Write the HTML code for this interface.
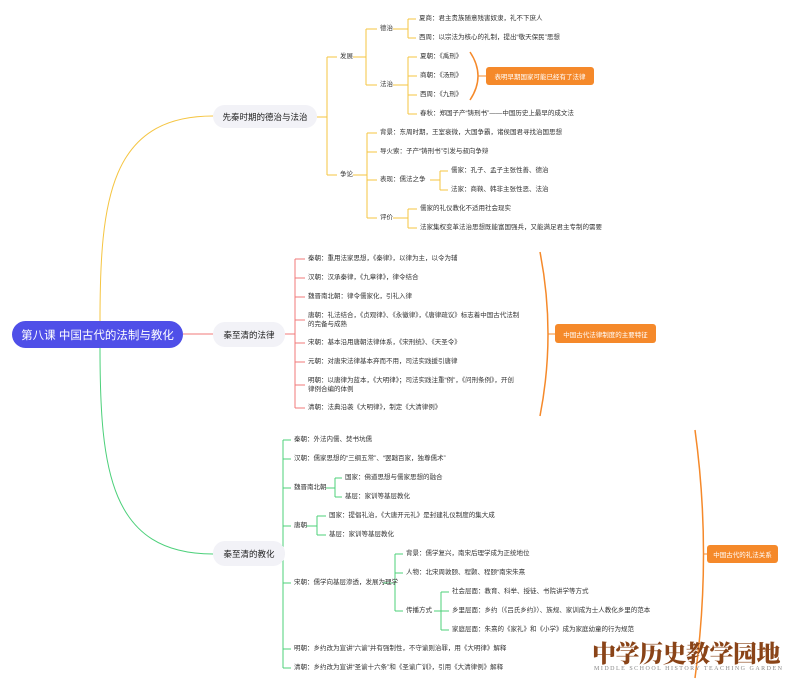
<!DOCTYPE html>
<html><head><meta charset="utf-8">
<style>
html,body{margin:0;padding:0;background:#fff;}
#c{position:relative;width:800px;height:686px;overflow:hidden;font-family:"Liberation Sans","Noto Sans CJK SC",sans-serif;color:#333;}
.t{position:absolute;font-size:6.5px;white-space:nowrap;line-height:8px;transform:translateY(-4px);}
.b{position:absolute;background:#f2f2f7;border-radius:12px;font-size:8.5px;color:#222;display:flex;align-items:center;justify-content:center;}
.o{position:absolute;background:#f5892a;color:#fff;font-size:6.5px;border-radius:3px;display:flex;align-items:center;justify-content:center;}
svg{position:absolute;left:0;top:0;}
</style></head><body><div id="c">
<svg id="s" width="800" height="686"></svg>
<div style="position:absolute;left:12px;top:321px;width:171px;height:27px;background:#4f4fe8;border-radius:14px;color:#fff;font-size:11.5px;display:flex;align-items:center;justify-content:center;">第八课 中国古代的法制与教化</div>
<div class="b" style="left:213px;top:105px;width:104px;height:23px;">先秦时期的德治与法治</div>
<div class="b" style="left:213px;top:322px;width:72px;height:25px;">秦至清的法律</div>
<div class="b" style="left:213px;top:541px;width:72px;height:25px;">秦至清的教化</div>

<div class="t" style="left:340px;top:57px">发展</div>
<div class="t" style="left:340px;top:175px">争论</div>
<div class="t" style="left:380px;top:29px">德治</div>
<div class="t" style="left:380px;top:85px">法治</div>
<div class="t" style="left:419px;top:19px">夏商：君主贵族随意残害奴隶，礼不下庶人</div>
<div class="t" style="left:419px;top:38px">西周：以宗法为核心的礼制，提出“敬天保民”思想</div>
<div class="t" style="left:420px;top:57px">夏朝：《禹刑》</div>
<div class="t" style="left:420px;top:76px">商朝：《汤刑》</div>
<div class="t" style="left:420px;top:95px">西周：《九刑》</div>
<div class="t" style="left:420px;top:114px">春秋：郑国子产“铸刑书”——中国历史上最早的成文法</div>
<div class="o" style="left:486px;top:67px;width:108px;height:18px;">表明早期国家可能已经有了法律</div>
<div class="t" style="left:380px;top:133px">背景：东周时期，王室衰微，大国争霸，诸侯国君寻找治国思想</div>
<div class="t" style="left:380px;top:152px">导火索：子产“铸刑书”引发与叔向争辩</div>
<div class="t" style="left:380px;top:180px">表现：儒法之争</div>
<div class="t" style="left:451px;top:171px">儒家：孔子、孟子主张性善、德治</div>
<div class="t" style="left:451px;top:190px">法家：商鞅、韩非主张性恶、法治</div>
<div class="t" style="left:380px;top:218px">评价</div>
<div class="t" style="left:420px;top:209px">儒家的礼仪教化不适用社会现实</div>
<div class="t" style="left:420px;top:228px">法家集权变革法治思想既能富国强兵，又能满足君主专制的需要</div>

<div class="t" style="left:308px;top:259px">秦朝：重用法家思想，《秦律》，以律为主，以令为辅</div>
<div class="t" style="left:308px;top:278px">汉朝：汉承秦律，《九章律》，律令结合</div>
<div class="t" style="left:308px;top:297px">魏晋南北朝：律令儒家化，引礼入律</div>
<div class="t" style="left:308px;top:316px">唐朝：礼法结合，《贞观律》、《永徽律》，《唐律疏议》标志着中国古代法制</div>
<div class="t" style="left:308px;top:325px">的完备与成熟</div>
<div class="t" style="left:308px;top:343px">宋朝：基本沿用唐朝法律体系，《宋刑统》、《天圣令》</div>
<div class="t" style="left:308px;top:362px">元朝：对唐宋法律基本弃而不用，司法实践援引唐律</div>
<div class="t" style="left:308px;top:381px">明朝：以唐律为蓝本，《大明律》；司法实践注重“例”，《问刑条例》，开创</div>
<div class="t" style="left:308px;top:390px">律例合编的体例</div>
<div class="t" style="left:308px;top:408px">清朝：法典沿袭《大明律》，制定《大清律例》</div>
<div class="o" style="left:555px;top:324px;width:101px;height:19px;">中国古代法律制度的主要特征</div>

<div class="t" style="left:294px;top:440px">秦朝：外法内儒、焚书坑儒</div>
<div class="t" style="left:294px;top:459px">汉朝：儒家思想的“三纲五常”、“罢黜百家，独尊儒术”</div>
<div class="t" style="left:294px;top:488px">魏晋南北朝</div>
<div class="t" style="left:345px;top:478px">国家：佛道思想与儒家思想的融合</div>
<div class="t" style="left:345px;top:497px">基层：家训等基层教化</div>
<div class="t" style="left:294px;top:526px">唐朝</div>
<div class="t" style="left:329px;top:516px">国家：提倡礼治，《大唐开元礼》是封建礼仪制度的集大成</div>
<div class="t" style="left:329px;top:535px">基层：家训等基层教化</div>
<div class="t" style="left:294px;top:583px">宋朝：儒学向基层渗透，发展为理学</div>
<div class="t" style="left:406px;top:554px">背景：儒学复兴，南宋后理学成为正统地位</div>
<div class="t" style="left:406px;top:573px">人物：北宋周敦颐、程颢、程颐“南宋朱熹</div>
<div class="t" style="left:406px;top:611px">传播方式</div>
<div class="t" style="left:452px;top:592px">社会层面：教育、科举、授徒、书院讲学等方式</div>
<div class="t" style="left:452px;top:611px">乡里层面：乡约（《吕氏乡约》）、族规、家训成为士人教化乡里的范本</div>
<div class="t" style="left:452px;top:630px">家庭层面：朱熹的《家礼》和《小学》成为家庭幼童的行为规范</div>
<div class="t" style="left:294px;top:649px">明朝：乡约改为宣讲“六谕”并有强制性，不守谕则治罪，用《大明律》解释</div>
<div class="t" style="left:294px;top:668px">清朝：乡约改为宣讲“圣谕十六条”和《圣谕广训》，引用《大清律例》解释</div>
<div class="o" style="left:707px;top:545px;width:71px;height:18px;">中国古代的礼法关系</div>

<div style="position:absolute;left:592px;top:634px;font-family:'Noto Serif CJK SC',serif;font-weight:900;font-size:24px;color:#8a4418;letter-spacing:-0.5px;white-space:nowrap;">中学历史教学园地</div>
<div style="position:absolute;left:594px;top:666px;font-family:'Liberation Serif',serif;font-size:6px;color:#888;letter-spacing:1.5px;white-space:nowrap;">MIDDLE SCHOOL HISTORY TEACHING GARDEN</div>
</div>
<script>
var s=document.getElementById('s'),h='';
function p(d,c,w){h+='<path d="'+d+'" fill="none" stroke="'+c+'" stroke-width="'+(w||1)+'"/>';}
function g(px,py,sx,cx,ys,c){
 var mn=Math.min.apply(0,ys),mx=Math.max.apply(0,ys);
 p('M'+px+' '+py+'H'+sx,c);
 p('M'+sx+' '+mn+'V'+mx,c);
 ys.forEach(function(y){p('M'+sx+' '+y+'H'+(cx-3),c);});
}
var Y='#f5c542',R='#f07a7a',G='#4cd07a',O='#f5892a';
p('M100 321 C100 200 110 116 213 116',Y);
p('M183 334 H213',R);
p('M100 348 C100 470 110 554 213 554',G);
g(317,117,327,340,[57,175],Y);
g(353,57,366,380,[29,85],Y);
g(393,29,408,419,[19,38],Y);
g(393,85,408,420,[57,76,95,114],Y);
g(353,175,367,380,[133,152,180,218],Y);
g(430,180,440,451,[171,190],Y);
g(393,218,408,420,[209,228],Y);
g(285,334,295,308,[259,278,297,320,343,362,385,408],R);
g(285,554,283,294,[440,459,488,526,583,649,668],G);
g(326,488,335,345,[478,497],G);
g(306,526,317,329,[516,535],G);
g(383,583,395,406,[554,573,611],G);
g(434,611,441,452,[592,611,630],G);
p('M470 52 Q486 76 470 100',O,1.5);p('M478 76 H486',O);
p('M540 252 Q556 334 540 416',O,1.5);p('M548 334 H555',O);
p('M695 430 Q712 554 695 678',O,1.5);p('M703 554 H707',O);
s.innerHTML=h;
</script>
</body></html>
